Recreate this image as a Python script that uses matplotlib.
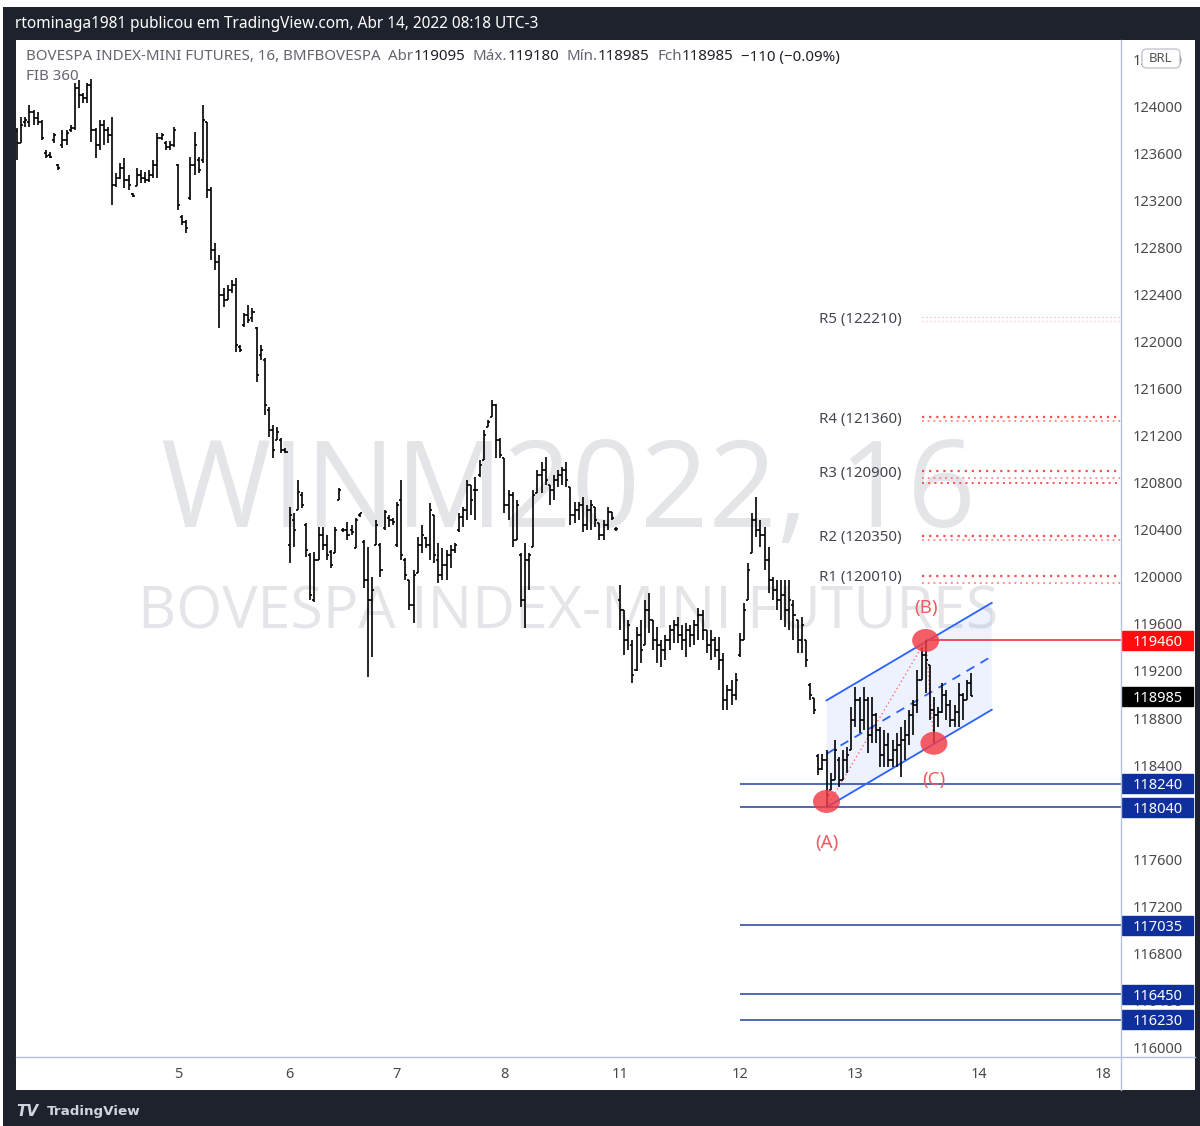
import matplotlib
matplotlib.use('Agg')
import matplotlib.pyplot as plt
import matplotlib.transforms as mtrans
from matplotlib.collections import LineCollection
from matplotlib.patches import Ellipse, Polygon, Rectangle, FancyBboxPatch
from matplotlib.lines import Line2D

plt.rcParams['font.family'] = ['Noto Sans', 'DejaVu Sans']

# ---------------- DATA: 16-minute OHLC bars (open, high, low, close) -------------
day4 = [
    (123795, 123820, 123550, 123695), (123695, 123915, 123695, 123845), (123870, 123915, 123830, 123890),
    (123870, 124015, 123830, 123955), (123955, 123975, 123845, 123905), (123905, 123955, 123845, 123870),
    (123870, 123890, 123720, 123735), (123610, 123635, 123565, 123585), (123590, 123615, 123565, 123575),
    (123720, 123780, 123695, 123760), (123505, 123515, 123465, 123480), (123675, 123805, 123650, 123720),
    (123720, 123805, 123675, 123780), (123805, 123845, 123785, 123820), (123820, 124205, 123805, 124160),
    (124160, 124230, 123990, 124100), (124100, 124120, 124035, 124075), (124075, 124205, 124035, 124190),
    (124190, 124240, 123700, 123805), (123805, 123820, 123565, 123675), (123675, 123890, 123635, 123845),
    (123845, 123890, 123675, 123805), (123805, 123830, 123695, 123760), (123760, 123915, 123165, 123335),
    (123335, 123440, 123320, 123395), (123395, 123525, 123390, 123480), (123480, 123565, 123310, 123380),
    (123380, 123420, 123295, 123335), (123260, 123270, 123235, 123245), (123330, 123480, 123330, 123420),
    (123420, 123465, 123355, 123395), (123395, 123445, 123355, 123380), (123380, 123465, 123360, 123420),
    (123420, 123550, 123395, 123505), (123505, 123780, 123395, 123735), (123735, 123780, 123720, 123760),
    (123695, 123710, 123635, 123660), (123660, 123710, 123635, 123675), (123675, 123830, 123660, 123805),
]
day5 = [
    (123505, 123515, 123125, 123165), (123065, 123080, 122995, 123020), (123020, 123040, 122930, 122970),
    (123225, 123575, 123210, 123505), (123505, 123785, 123420, 123675), (123550, 123575, 123440, 123465),
    (123550, 124015, 123525, 123890), (123870, 123870, 123225, 123295), (123295, 123320, 122700, 122785),
    (122785, 122845, 122615, 122680), (122680, 122740, 122120, 122400), (122400, 122460, 122300, 122355),
    (122355, 122485, 122355, 122445), (122445, 122530, 122420, 122485), (122485, 122545, 121915, 121975),
    (121955, 121975, 121915, 121930), (122145, 122245, 122130, 122230), (122230, 122315, 122160, 122185),
    (122205, 122290, 122170, 122255), (122120, 122130, 121660, 121720), (121890, 121975, 121845, 121930),
    (121845, 121865, 121380, 121465), (121420, 121450, 121190, 121250), (121250, 121295, 121015, 121080),
    (121165, 121275, 121165, 121235), (121165, 121185, 121055, 121080), (121080, 121100, 121055, 121065),
]
day6 = [
    (120275, 120595, 120120, 120530), (120485, 120545, 120255, 120400), (120570, 120825, 120570, 120725),
    (120700, 120725, 120585, 120610), (120445, 120460, 120170, 120230), (120190, 120205, 119805, 119845),
    (119805, 120215, 119790, 120145), (120145, 120425, 120145, 120355), (120355, 120425, 120230, 120275),
    (120275, 120355, 120145, 120190), (120215, 120230, 120075, 120100), (120205, 120425, 120205, 120400),
    (120655, 120755, 120655, 120740), (120400, 120415, 120385, 120400), (120400, 120470, 120315, 120355),
    (120400, 120445, 120355, 120385), (120245, 120500, 120245, 120485), (120525, 120545, 120510, 120545),
    (120300, 120315, 119905, 119975), (119975, 120255, 119150, 119805), (119805, 120000, 119320, 119890),
    (120275, 120485, 120275, 120445), (120275, 120290, 120000, 120060), (120415, 120570, 120400, 120555),
    (120500, 120530, 120425, 120485), (120485, 120500, 120445, 120470),
]
day7 = [
    (120275, 120640, 120255, 120615), (120655, 120825, 120145, 120190), (120145, 120160, 119975, 120015),
    (119975, 119975, 119720, 119760), (119760, 120060, 119610, 120015), (120035, 120340, 120035, 120275),
    (120275, 120445, 120205, 120355), (120330, 120340, 120245, 120275), (120275, 120630, 120145, 120570),
    (120525, 120530, 120120, 120190), (120145, 120290, 119950, 120015), (120015, 120245, 119975, 120100),
    (120100, 120230, 119975, 120190), (120190, 120275, 120075, 120230), (120230, 120290, 120205, 120275),
    (120400, 120545, 120385, 120510), (120510, 120595, 120425, 120570), (120570, 120825, 120485, 120785),
    (120785, 120785, 120530, 120655), (120740, 120850, 120485, 120740), (120870, 120995, 120850, 120955),
    (120995, 121250, 120995, 121210), (121275, 121335, 121275, 121320), (121360, 121505, 121360, 121465),
    (121465, 121470, 121015, 121165), (121165, 121185, 121015, 121040),
]
day8 = [
    (121015, 121015, 120545, 120615), (120615, 120740, 120485, 120700), (120700, 120720, 120255, 120315),
    (120315, 120655, 120315, 120615), (120190, 120205, 119745, 119805), (119805, 120290, 119565, 120145),
    (120145, 120205, 119890, 120190), (120255, 120740, 120255, 120700), (120715, 120910, 120715, 120870),
    (120870, 120980, 120715, 120910), (120910, 121020, 120785, 120825), (120785, 120785, 120615, 120740),
    (120740, 120870, 120655, 120825), (120825, 120910, 120765, 120870), (120870, 120935, 120785, 120910),
    (120910, 120980, 120765, 120825), (120765, 120765, 120445, 120530), (120530, 120640, 120460, 120570),
    (120570, 120640, 120485, 120615), (120615, 120680, 120385, 120445), (120445, 120615, 120400, 120570),
    (120570, 120655, 120400, 120615), (120595, 120595, 120425, 120485), (120460, 120460, 120315, 120355),
    (120355, 120485, 120315, 120445), (120445, 120595, 120400, 120555), (120555, 120555, 120485, 120500),
    (120410, 120425, 120390, 120410),
]
day11 = [
    (119805, 119930, 119550, 119720), (119720, 119720, 119335, 119465), (119465, 119635, 119380, 119590),
    (119420, 119465, 119100, 119165), (119210, 119575, 119200, 119505), (119505, 119635, 119270, 119380),
    (119420, 119805, 119420, 119720), (119720, 119865, 119525, 119635), (119635, 119635, 119380, 119465),
    (119465, 119575, 119270, 119420), (119420, 119465, 119235, 119380), (119380, 119505, 119295, 119465),
    (119465, 119590, 119380, 119550), (119550, 119635, 119440, 119590), (119590, 119660, 119440, 119505),
    (119505, 119590, 119380, 119465), (119465, 119610, 119320, 119550), (119550, 119590, 119405, 119505),
    (119505, 119635, 119420, 119590), (119590, 119735, 119465, 119675), (119675, 119720, 119465, 119550),
    (119550, 119550, 119355, 119420), (119420, 119550, 119295, 119465), (119465, 119490, 119320, 119380),
    (119380, 119490, 119210, 119295), (119295, 119355, 118870, 118955), (118955, 119080, 118870, 119040),
    (119040, 119125, 118910, 118995), (118995, 119185, 118955, 119125),
]
day12 = [
    (119335, 119525, 119320, 119465), (119465, 119780, 119465, 119720), (119805, 120120, 119805, 120060),
    (120205, 120545, 120205, 120485), (120485, 120680, 120340, 120400), (120400, 120485, 120255, 120355),
    (120355, 120425, 120060, 120145), (120145, 120255, 119865, 119975), (119975, 120000, 119805, 119890),
    (119890, 119975, 119720, 119805), (119805, 119975, 119635, 119845), (119845, 119975, 119575, 119720),
    (119720, 119975, 119550, 119805), (119760, 119805, 119465, 119675), (119635, 119635, 119355, 119465),
    (119465, 119660, 119355, 119590), (119465, 119465, 119235, 119295), (119080, 119100, 118955, 118995),
    (118970, 118970, 118835, 118870), (118475, 118490, 118315, 118370), (118370, 118490, 118355, 118440),
    (118440, 118525, 118040, 118145), (118185, 118330, 118185, 118270), (118270, 118615, 118270, 118525),
    (118440, 118470, 118210, 118270), (118270, 118525, 118270, 118440), (118440, 118555, 118330, 118485),
    (118525, 118895, 118525, 118785),
]
day13 = [
    (118785, 119065, 118725, 118955), (118955, 118980, 118675, 118785), (118785, 119065, 118700, 118955),
    (118955, 118980, 118500, 118655), (118655, 118980, 118585, 118825), (118825, 118845, 118585, 118700),
    (118700, 118725, 118385, 118485), (118485, 118700, 118385, 118570), (118570, 118675, 118385, 118440),
    (118440, 118615, 118385, 118525), (118525, 118675, 118385, 118570), (118570, 118725, 118300, 118615),
    (118615, 118785, 118440, 118655), (118655, 118870, 118570, 118825), (118825, 118955, 118655, 118910),
    (118910, 119210, 118845, 119125), (119125, 119405, 119125, 119335), (119335, 119460, 119015, 119295),
    (119250, 119250, 118785, 118870), (118870, 118980, 118585, 118825), (118825, 118895, 118725, 118850),
    (118850, 119100, 118845, 118995), (118995, 119040, 118785, 118910), (118910, 118955, 118725, 118785),
    (118785, 118910, 118725, 118850), (118850, 119100, 118725, 118995), (118995, 119015, 118785, 118955),
    (118955, 119125, 118955, 119095), (119095, 119180, 118985, 118985),
]
days = [day4, day5, day6, day7, day8, day11, day12, day13]
day_labels = ['5', '6', '7', '8', '11', '12', '13', '14', '18']
future_tick_bars = [233, 263]          # positions of "14" and "18" on the time scale

price_ticks = list(range(116000, 124401, 400))

pivot_names = ['R1', 'R2', 'R3', 'R4', 'R5']
pivot_values = [120010, 120350, 120900, 121360, 122210]
pivot_second = [119950, 120315, 120840, 121330, 122180]
pivot_extra = [120800]
pivot_start_bar = 219

blue_levels = [118240, 118040, 117035, 116450, 116230]
blue_start_bar = 175
red_level = 119460
last_price = 118985

wave_names = ['(A)', '(B)', '(C)']
wave_bars = [196, 220, 222]
wave_prices = [118040, 119460, 118585]

channel_bars = [196, 236]
channel_lower = [118040, 118870]
channel_width = 910

legend_parts = [
    ('BOVESPA INDEX-MINI FUTURES, 16, BMFBOVESPA', 'g', 0), ('Abr', 'g', 7), ('119095', 'd', 0),
    ('Máx.', 'g', 7), ('119180', 'd', 0), ('Mín.', 'g', 7), ('118985', 'd', 0),
    ('Fch', 'g', 7), ('118985', 'd', 0), ('−110 (−0.09%)', 'd', 7),
]

# ---------------- FIGURE ----------------
W, H = 1200, 1126
fig = plt.figure(figsize=(W / 100, H / 100), dpi=100)
fig.patch.set_facecolor('white')


def fx(p):
    return p / W


def fy(p):
    return 1 - p / H


DARK = '#1e222d'
fig.add_artist(Rectangle((fx(3), 0), 1 - fx(3), fy(7), transform=fig.transFigure,
                         fc=DARK, ec='none', zorder=-3))
fig.add_artist(Rectangle((fx(16), fy(1090)), fx(1195) - fx(16), fy(40) - fy(1090),
                         transform=fig.transFigure, fc='white', ec='none', zorder=-2))

ax = fig.add_axes([fx(16), fy(1057), fx(1121) - fx(16), fy(40) - fy(1057)])
ax.patch.set_visible(False)
for s in ax.spines.values():
    s.set_visible(False)

x_min, x_max = -0.25, 267.3
y_min, y_max = 115915, 124570
ax.set_xlim(x_min, x_max)
ax.set_ylim(y_min, y_max)
px_per_pt = (1057 - 40) / (y_max - y_min)
px_per_bar = (1121 - 16) / (x_max - x_min)

AXC = '#b4c0e2'
fig.add_artist(Line2D([fx(1121), fx(1121)], [fy(40), fy(1090)], transform=fig.transFigure,
                      color=AXC, lw=1.0, zorder=1))
fig.add_artist(Line2D([fx(16), fx(1195)], [fy(1057), fy(1057)], transform=fig.transFigure,
                      color=AXC, lw=1.0, zorder=1))

# ticks
bars = [b for d in days for b in d]
starts = []
n = 0
for d in days:
    starts.append(n)
    n += len(d)
tick_pos = starts[1:] + future_tick_bars
ax.set_xticks(tick_pos)
ax.set_xticklabels(day_labels)
ax.tick_params(axis='x', length=0, pad=7, labelsize=10.5, labelcolor='#4a4a4a')
ax.yaxis.tick_right()
ax.set_yticks(price_ticks)
ax.set_yticklabels([str(v) for v in price_ticks])
ax.tick_params(axis='y', length=0, pad=8.5, labelsize=10.5, labelcolor='#4a4a4a')

# watermark
wm1 = ax.text(0.5, 0.5526, 'WINM2022, 16', transform=ax.transAxes, ha='center', va='center',
              fontsize=80, color='#e4e5e8', zorder=0, family='Open Sans')
wm2 = ax.text(0.5, 0.4366, 'BOVESPA INDEX-MINI FUTURES', transform=ax.transAxes, ha='center',
              va='center', fontsize=40, color='#e4e5e8', zorder=0, family='Open Sans')

# bars
segs = []
tw = 0.5
for i, (o, h, l, c) in enumerate(bars):
    h = max(h, o, c)
    l = min(l, o, c)
    segs.append([(i, l), (i, h)])
    segs.append([(i - tw, o), (i, o)])
    segs.append([(i, c), (i + tw, c)])
ax.add_collection(LineCollection(segs, colors='#000000', linewidths=1.2, zorder=4))

# pivots
for name, v, v2 in zip(pivot_names, pivot_values, pivot_second):
    pale = name == 'R5'
    ax.hlines(v, pivot_start_bar, x_max, colors='#ff4d4d', linewidth=0.9 if pale else 1.6,
              linestyles=(0, (1, 2.2)), alpha=0.45 if pale else 1.0, zorder=3)
    ax.hlines(v2, pivot_start_bar, x_max, colors='#ff6666', linewidth=0.9 if pale else 1.3,
              linestyles=(0, (1, 2.2)), alpha=0.4 if pale else 0.8, zorder=3)
    ax.annotate(f'{name} ({v})', xy=(pivot_start_bar, v), xytext=(-103, 0),
                textcoords='offset pixels', ha='left', va='center_baseline', fontsize=10.8,
                color='#434651', zorder=3)
for v in pivot_extra:
    ax.hlines(v, pivot_start_bar, x_max, colors='#ff4d4d', linewidth=1.4,
              linestyles=(0, (1, 2.2)), zorder=3)

# blue & red levels
for v in blue_levels:
    ax.hlines(v, blue_start_bar, x_max, colors='#1f3f9e', linewidth=1.1, zorder=3)
ax.hlines(red_level, wave_bars[1], x_max, colors='#f0202a', linewidth=1.1, zorder=3)

# channel
bx0, bx1 = channel_bars
ly0, ly1 = channel_lower
ax.add_patch(Polygon([(bx0, ly0), (bx1, ly1), (bx1, ly1 + channel_width), (bx0, ly0 + channel_width)],
                     closed=True, fc='#2962ff', ec='none', alpha=0.08, zorder=2))
ax.plot([bx0, bx1], [ly0, ly1], color='#2962ff', lw=1.3, zorder=3)
ax.plot([bx0, bx1], [ly0 + channel_width, ly1 + channel_width], color='#2962ff', lw=1.3, zorder=3)
ax.plot([bx0, bx1], [ly0 + channel_width / 2, ly1 + channel_width / 2], color='#2962ff', lw=1.3,
        ls=(0, (5, 4)), zorder=3)

# waves
ax.plot(wave_bars, wave_prices, color='#ff6b6b', lw=1.0, ls=(0, (1, 2)), zorder=3)
ew = 27 / px_per_bar
eh = 23 / px_per_pt
offs = [(0, -36), (0, 32), (0, -37)]
for nm, xb, yp, off in zip(wave_names, wave_bars, wave_prices, offs):
    ax.add_patch(Ellipse((xb, yp + 50 if nm == '(A)' else yp), ew, eh, fc='#f23b45', ec='none',
                         alpha=0.82, zorder=5))
    ax.annotate(nm, xy=(xb, yp), xytext=off, textcoords='offset pixels', ha='center',
                va='center', fontsize=13.5, color='#f05a62', zorder=6)

# right price tags
blend = mtrans.blended_transform_factory(fig.transFigure, ax.transData)


def price_tag(v, bg):
    hd = 19 / px_per_pt
    ax.add_patch(FancyBboxPatch((fx(1122), v - hd / 2), fx(1193) - fx(1122), hd,
                                boxstyle='square,pad=0', transform=blend,
                                fc=bg, ec=bg, clip_on=False, zorder=8))
    ax.text(fx(1157.5), v, f'{v}', transform=blend, ha='center', va='center_baseline',
            color='white', fontsize=10.5, fontweight='bold', zorder=9, clip_on=False)


price_tag(red_level, '#ff0d0d')
price_tag(last_price, '#000000')
for v in blue_levels:
    price_tag(v, '#0f2f9c')

# BRL box
fig.add_artist(FancyBboxPatch((fx(1142), fy(68)), fx(1180) - fx(1142), fy(49) - fy(68),
                              boxstyle='round,pad=0,rounding_size=0.004', transform=fig.transFigure,
                              fc='white', ec='#c3c6ce', lw=1.0, zorder=5))
fig.text(fx(1161), fy(58.5), 'BRL', ha='center', va='center', fontsize=9.5, color='#555',
         zorder=6)

# header / footer texts
title = fig.text(fx(15), fy(24), 'rtominaga1981 publicou em TradingView.com, Abr 14, 2022 08:18 UTC-3',
                 color='white', fontsize=10.5, fontweight='bold', ha='left', va='center', zorder=6)
fig.text(fx(16), fy(1111), 'TV', color='#d1d4dc', fontsize=11, fontweight='heavy', ha='left',
         va='center', zorder=6, style='italic', family='DejaVu Sans')
foot = fig.text(fx(47), fy(1111), 'TradingView', color='#d1d4dc', fontsize=10.5, fontweight='bold',
                ha='left', va='center', zorder=6, family='DejaVu Sans')

COL = {'g': '#62656f', 'd': '#1e2129'}


def build_legend(fs, scale):
    arts = []
    prev = fig.text(fx(26), fy(57), legend_parts[0][0], color=COL[legend_parts[0][1]], fontsize=fs,
                    ha='left', va='center', zorder=6)
    arts.append(prev)
    for s, c, gap in legend_parts[1:]:
        t = ax.annotate(s, xy=(1, 0.5), xycoords=prev, xytext=(gap * scale, 0),
                        textcoords='offset pixels', color=COL[c], fontsize=fs, ha='left',
                        va='center', annotation_clip=False, zorder=6)
        arts.append(t)
        prev = t
    return arts


fib = fig.text(fx(26), fy(77), 'FIB 360', color='#62656f', fontsize=10, ha='left', va='center',
               zorder=6)

leg = build_legend(10, 1.0)
fig.canvas.draw()
r = fig.canvas.get_renderer()
right = leg[-1].get_window_extent(r).x1
k = (840 - 26) / (right - 26)
for a in leg:
    a.remove()
fs_leg = 10 * k
leg = build_legend(fs_leg, k)
fib.set_fontsize(fs_leg)

for t, target in [(wm1, 815), (wm2, 860), (title, 524), (foot, 94)]:
    w = t.get_window_extent(r).width
    t.set_fontsize(t.get_fontsize() * target / w)

fig.savefig('out.png', dpi=100, facecolor=fig.get_facecolor())
